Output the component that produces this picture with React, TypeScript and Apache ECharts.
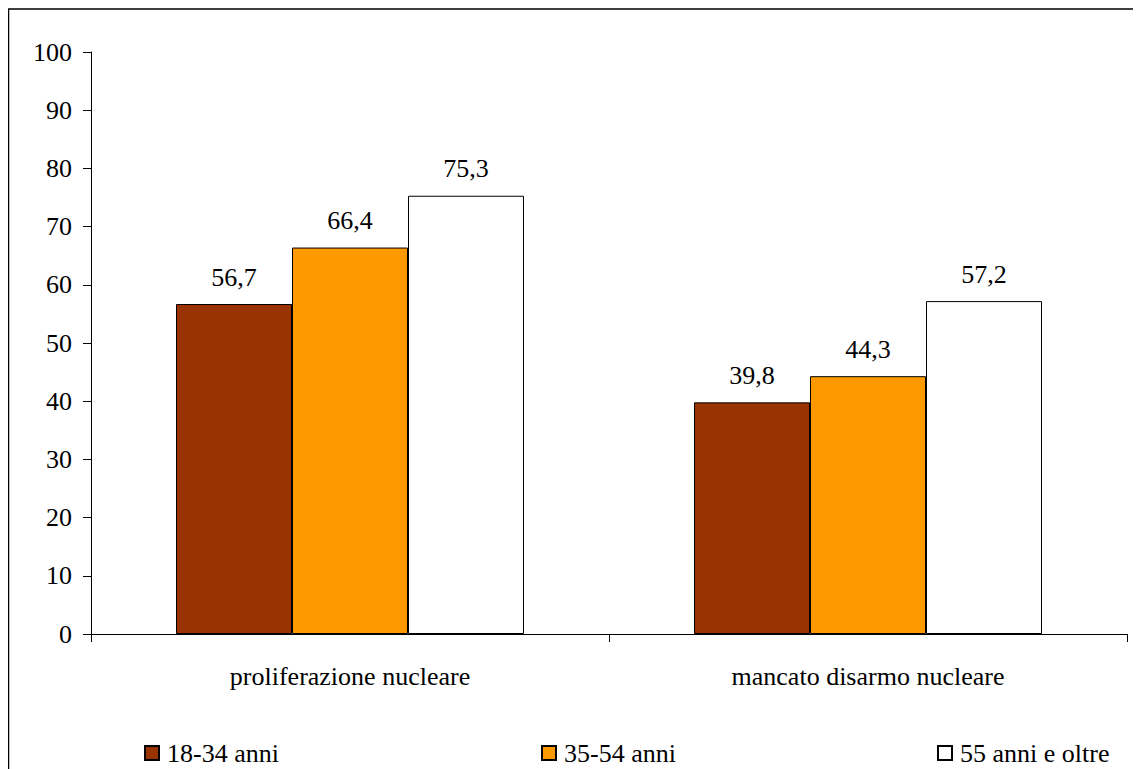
import React, { useEffect, useRef } from "react";
import * as echarts from "echarts";

const categories = ["proliferazione nucleare", "mancato disarmo nucleare"];
const seriesNames = ["18-34 anni", "35-54 anni", "55 anni e oltre"];
const values18_34 = [56.7, 39.8];
const values35_54 = [66.4, 44.3];
const values55 = [75.3, 57.2];
const colors = ["#993300", "#FF9900", "#FFFFFF"];

const FONT = "Liberation Serif";
const FS = 26;

export default function App() {
  const ref = useRef<HTMLDivElement>(null);
  useEffect(() => {
    if (!ref.current) return;
    const chart = echarts.init(ref.current, undefined, { renderer: "svg" });
    const allValues = [values18_34, values35_54, values55];
    const legendLefts = [136, 533, 929];
    chart.setOption({
      animation: false,
      textStyle: { fontFamily: FONT },
      grid: { left: 83, top: 44, width: 1036, height: 582, containLabel: false },
      legend: seriesNames.map((n, i) => ({
        data: [n],
        left: legendLefts[i],
        top: 732,
        padding: 0,
        itemWidth: 14,
        itemHeight: 14,
        itemGap: 5,
        selectedMode: false,
        icon: "rect",
        textStyle: { fontFamily: FONT, fontSize: FS, color: "#000", padding: [0, 0, 0, 3] },
      })),
      xAxis: {
        type: "category",
        data: categories,
        boundaryGap: true,
        axisLine: { show: true, lineStyle: { color: "#000", width: 1 } },
        axisTick: { show: true, length: 8, lineStyle: { color: "#000" } },
        axisLabel: { fontFamily: FONT, fontSize: FS, color: "#000", margin: 29 },
        splitLine: { show: false },
      },
      yAxis: {
        type: "value",
        min: 0,
        max: 100,
        interval: 10,
        axisLine: { show: true, lineStyle: { color: "#000", width: 1 } },
        axisTick: { show: true, length: 8, lineStyle: { color: "#000" } },
        axisLabel: { fontFamily: FONT, fontSize: FS, color: "#000", margin: 19 },
        splitLine: { show: false },
      },
      series: seriesNames.map((n, i) => ({
        name: n,
        type: "bar",
        data: allValues[i],
        barWidth: 116,
        barGap: "0%",
        itemStyle: { color: colors[i], borderColor: "#000", borderWidth: 1 },
        label: {
          show: true,
          position: "top",
          distance: 14,
          fontFamily: FONT,
          fontSize: FS,
          color: "#000",
          formatter: (p: any) => String(p.value).replace(".", ","),
        },
      })),
      graphic: [
        {
          type: "rect",
          shape: { x: 0.5, y: 1, width: 1300, height: 1000 },
          style: { fill: "none", stroke: "#000", lineWidth: 1.5 },
          silent: true,
        },
      ],
    });
    return () => chart.dispose();
  }, []);
  return <div ref={ref} style={{ width: 1133, height: 761 }} />;
}
